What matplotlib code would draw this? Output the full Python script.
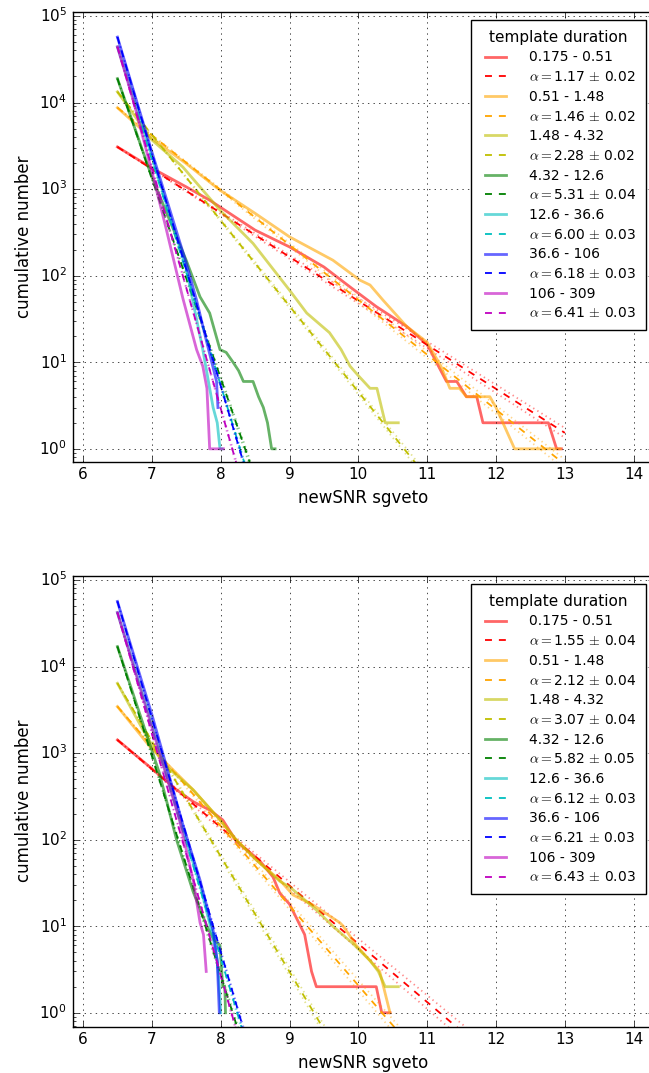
import matplotlib
matplotlib.use('Agg')
import matplotlib.pyplot as plt
import numpy as np
from matplotlib.ticker import MultipleLocator

plt.style.use('classic')

# template duration bins (shared by both panels)
bin_labels = ['0.175 - 0.51', '0.51 - 1.48', '1.48 - 4.32', '4.32 - 12.6',
              '12.6 - 36.6', '36.6 - 106', '106 - 309']
hist_colors = ['r', 'orange', 'y', 'g', 'c', 'b', 'm']
fit_colors = ['r', 'orange', 'y', 'g', 'c', 'b', 'm']

# ---- top panel ----
top_alpha = [1.17, 1.46, 2.28, 5.31, 6.00, 6.18, 6.41]
top_err = [0.02, 0.02, 0.02, 0.04, 0.03, 0.03, 0.03]
top_x = [
    [6.5, 7.0, 7.5, 7.84, 8.5, 9.0, 9.5, 9.88, 10.26, 10.7, 11.0, 11.28, 11.43,
     11.57, 11.72, 11.81, 12.76, 12.88, 12.95],
    [6.5, 7.0, 7.5, 7.99, 8.5, 9.0, 9.63, 10.02, 10.17, 10.36, 10.7, 11.0, 11.2,
     11.33, 11.47, 11.57, 11.91, 12.0, 12.1, 12.27, 12.93],
    [6.5, 7.0, 7.45, 7.99, 8.47, 9.0, 9.25, 9.58, 9.75, 9.88, 10.0, 10.17, 10.27,
     10.39, 10.58],
    [6.5, 7.0, 7.5, 7.7, 7.84, 7.92, 7.99, 8.08, 8.18, 8.26, 8.33, 8.47, 8.55,
     8.62, 8.68, 8.74, 8.79],
    [6.5, 7.0, 7.5, 7.74, 7.89, 7.95, 7.99, 8.02],
    [6.5, 7.0, 7.5, 7.65, 7.79, 7.94, 7.96],
    [6.5, 6.73, 7.0, 7.2, 7.45, 7.65, 7.74, 7.8, 7.84, 8.04],
]
top_y = [
    [3070, 1750, 1060, 745, 336, 215, 126, 74, 44, 26, 16, 6, 6, 4, 4, 2, 2, 1, 1],
    [8720, 3830, 1970, 971, 525, 281, 151, 89, 78, 52, 26, 17, 9, 5, 5, 4, 4, 3,
     2, 1, 1],
    [13300, 3700, 1800, 571, 236, 68, 37, 22, 14, 9, 7, 5, 5, 2, 2],
    [18900, 1380, 150, 57, 37, 22, 14, 13, 10, 8, 6, 6, 4, 3, 2, 1, 1],
    [44000, 2400, 120, 14, 3, 2, 1, 1],
    [57000, 2700, 140, 52, 18, 6, 3],
    [44000, 10600, 1600, 370, 55, 14, 9, 5, 1, 1],
]

# ---- bottom panel ----
bot_alpha = [1.55, 2.12, 3.07, 5.82, 6.12, 6.21, 6.43]
bot_err = [0.04, 0.04, 0.04, 0.05, 0.03, 0.03, 0.03]
bot_x = [
    [6.5, 7.02, 7.36, 7.6, 7.84, 8.03, 8.23, 8.56, 8.76, 8.86, 9.0, 9.22, 9.32,
     9.39, 10.26, 10.34, 10.46],
    [6.5, 6.97, 7.21, 7.6, 7.99, 8.18, 8.52, 8.86, 9.05, 9.34, 9.73, 9.78, 9.97,
     10.17, 10.31, 10.46],
    [6.5, 6.87, 7.16, 7.6, 7.99, 8.23, 8.52, 8.86, 9.0, 9.39, 9.63, 9.92, 10.17,
     10.29, 10.39, 10.58],
    [6.5, 7.11, 7.36, 7.6, 7.8, 7.9, 7.99, 8.03, 8.06, 8.07],
    [6.5, 7.0, 7.45, 7.7, 7.88, 7.95, 7.98, 8.0],
    [6.5, 7.0, 7.45, 7.7, 7.89, 7.95, 7.98],
    [6.5, 7.0, 7.4, 7.6, 7.7, 7.75, 7.79],
]
bot_y = [
    [1420, 640, 376, 275, 220, 169, 95, 58, 37, 24, 18, 8, 3, 2, 2, 1, 1],
    [3450, 1190, 764, 376, 169, 108, 58, 34, 23, 17.6, 11, 10, 6, 4, 3, 1],
    [6400, 1860, 764, 376, 169, 99, 58, 33, 28.6, 15.4, 10, 6.3, 4, 3, 2, 2],
    [17000, 586, 99, 25, 10, 7, 6, 2, 2, 1],
    [42000, 2200, 130, 30, 8, 4, 2, 1],
    [56500, 2800, 150, 34, 9, 4, 1],
    [42000, 2000, 170, 34, 11, 8, 3],
]

fit_range = (6.5, 13.0)

fig = plt.figure(figsize=(6.49, 10.73), dpi=100)
ax1 = fig.add_axes([0.112, 0.5697, 0.8957, 0.4194])
ax2 = fig.add_axes([0.112, 0.04315, 0.8957, 0.4203])


def draw_panel(ax, xs, ys, alphas, errs, ymin):
    xfit = np.linspace(fit_range[0], fit_range[1], 200)
    for i in range(len(bin_labels)):
        n0 = ys[i][0]
        ax.semilogy(xs[i], ys[i], color=hist_colors[i], lw=2, alpha=0.6,
                    label=bin_labels[i])
        ax.semilogy(xfit, n0 * np.exp(-alphas[i] * (xfit - xs[i][0])),
                    color=fit_colors[i], lw=1.3, dashes=(5, 5),
                    label=r'$\alpha=$%.2f $\pm$ %.2f' % (alphas[i], errs[i]))
        for a in (alphas[i] - errs[i], alphas[i] + errs[i]):
            ax.semilogy(xfit, n0 * np.exp(-a * (xfit - xs[i][0])),
                        color=fit_colors[i], lw=1.3, dashes=(1, 2.5), alpha=0.45)
    ax.set_xlim(5.85, 14.295)
    ax.set_ylim(ymin, 1.12e5)
    ax.xaxis.set_major_locator(MultipleLocator(1))
    ax.grid(True)
    ax.tick_params(labelsize=11)
    ax.set_xlabel('newSNR sgveto', fontsize=12)
    ax.set_ylabel('cumulative number', fontsize=12)
    leg = ax.legend(loc='upper right', title='template duration', fontsize=10,
                    labelspacing=0.41, handlelength=2.1, handletextpad=1.35,
                    borderpad=0.7, borderaxespad=0.6)
    leg.get_title().set_fontsize(11)


draw_panel(ax1, top_x, top_y, top_alpha, top_err, 0.71)
draw_panel(ax2, bot_x, bot_y, bot_alpha, bot_err, 0.69)

fig.savefig('out.png', dpi=100, facecolor='white')
